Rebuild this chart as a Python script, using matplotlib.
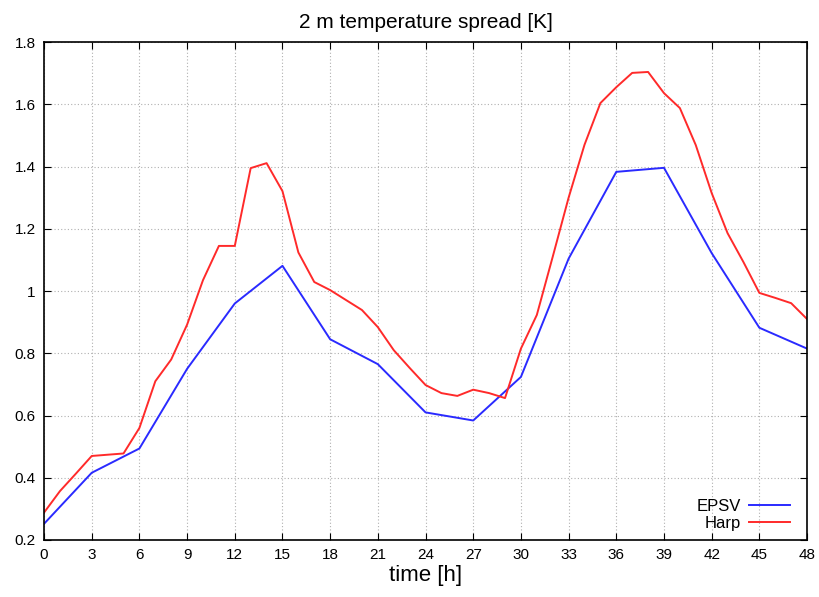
import matplotlib
matplotlib.use("Agg")
import matplotlib.pyplot as plt

plt.rcParams['font.family'] = ['Liberation Sans', 'DejaVu Sans']

epsv_time = [0, 3, 6, 9, 12, 15, 18, 21, 24, 27, 30, 33, 36, 39, 42, 45, 48]
epsv_spread = [0.252, 0.416, 0.494, 0.750, 0.960, 1.081, 0.845, 0.765, 0.610, 0.584,
               0.724, 1.104, 1.383, 1.396, 1.122, 0.882, 0.815]

harp_time = list(range(0, 49))
harp_spread = [0.288, 0.357, 0.413, 0.470, 0.474, 0.478, 0.560, 0.710, 0.780, 0.892,
               1.035, 1.145, 1.145, 1.395, 1.411, 1.321, 1.124, 1.029, 1.003, 0.971,
               0.939, 0.884, 0.810, 0.753, 0.698, 0.672, 0.663, 0.683, 0.672, 0.656,
               0.815, 0.923, 1.110, 1.300, 1.470, 1.604, 1.655, 1.701, 1.704, 1.636,
               1.588, 1.469, 1.315, 1.186, 1.093, 0.994, 0.978, 0.961, 0.910]

xticks = list(range(0, 49, 3))
yticks = [0.2, 0.4, 0.6, 0.8, 1.0, 1.2, 1.4, 1.6, 1.8]
ytick_labels = ['0.2', '0.4', '0.6', '0.8', '1', '1.2', '1.4', '1.6', '1.8']

fig = plt.figure(figsize=(8.2, 5.97), dpi=100)
ax = fig.add_axes([0.0537, 0.0955, 0.9305, 0.834])

ax.plot(epsv_time, epsv_spread, color='#2a2aff', lw=1.4, label='EPSV')
ax.plot(harp_time, harp_spread, color='#ff2a2a', lw=1.4, label='Harp')

ax.set_xlim(0, 48)
ax.set_ylim(0.2, 1.8)
ax.set_xticks(xticks)
ax.set_yticks(yticks)
ax.set_yticklabels(ytick_labels)
ax.tick_params(direction='in', top=True, right=True, length=5, width=0.8,
               labelsize=11, pad=6, colors='black')
ax.grid(True, linestyle=(0, (1, 2)), color='#b0b0b0', lw=0.8)
for s in ax.spines.values():
    s.set_linewidth(1.2)

ax.set_title('2 m temperature spread [K]', fontsize=15, pad=10)
ax.set_xlabel('time [h]', fontsize=16, labelpad=2)

leg = ax.legend(loc='lower right', frameon=False, markerfirst=False, fontsize=12,
                handlelength=2.5, handletextpad=0.45, labelspacing=0.12,
                borderaxespad=0.15, bbox_to_anchor=(0.99, 0.0))
for t in leg.get_texts():
    t.set_ha('right')

fig.savefig('out.png', dpi=100)
